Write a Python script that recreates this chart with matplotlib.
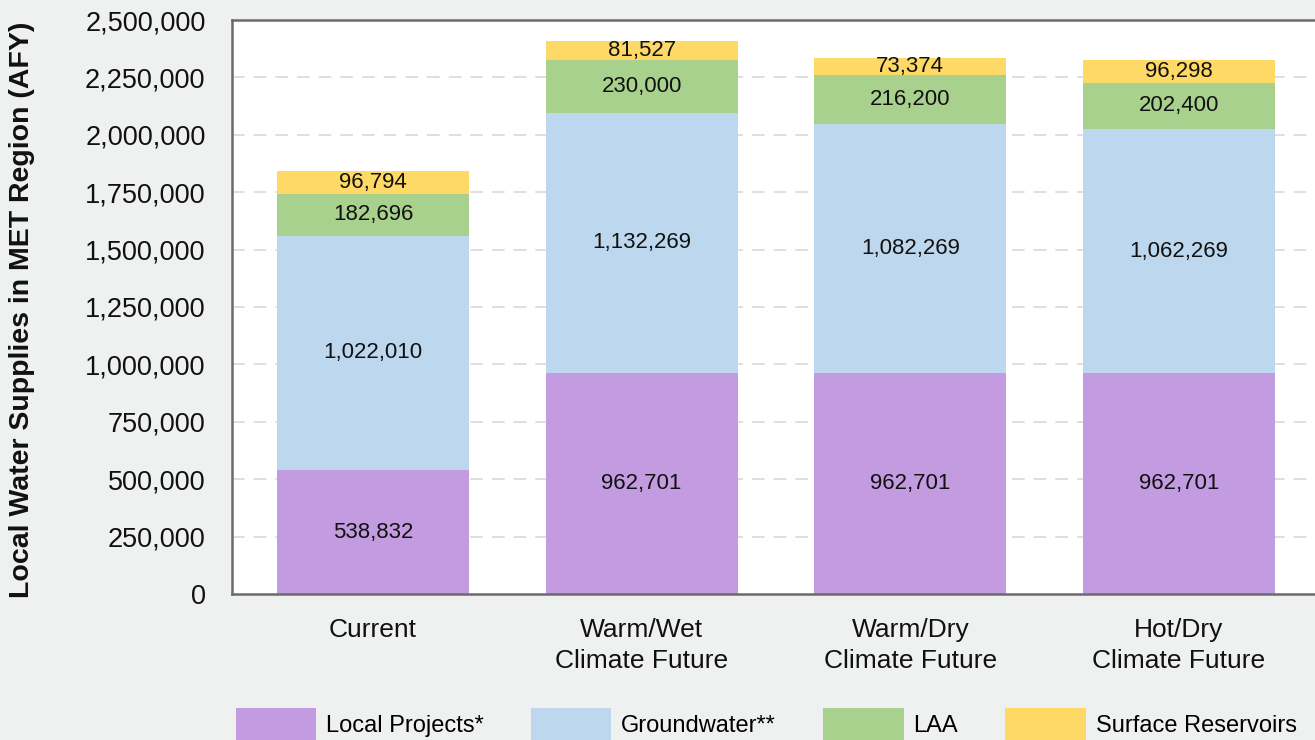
import matplotlib
matplotlib.use("Agg")
import matplotlib.pyplot as plt
import numpy as np
from matplotlib.patches import Patch
from matplotlib.ticker import FuncFormatter

# data
categories = ["Current", "Warm/Wet\nClimate Future", "Warm/Dry\nClimate Future", "Hot/Dry\nClimate Future"]
local_projects = [538832, 962701, 962701, 962701]
groundwater = [1022010, 1132269, 1082269, 1062269]
laa = [182696, 230000, 216200, 202400]
surface_reservoirs = [96794, 81527, 73374, 96298]

series_names = ["Local Projects*", "Groundwater**", "LAA", "Surface Reservoirs"]
colors = ["#C39BE0", "#BDD7EE", "#A9D18E", "#FFD966"]

plt.rcParams["font.family"] = ["Liberation Sans", "DejaVu Sans"]

fig = plt.figure(figsize=(13.15, 7.4), dpi=100, facecolor="#eff0f0")
ax = fig.add_axes([232 / 1315, 146 / 740, 1088 / 1315, 574 / 740])
ax.set_facecolor("white")

x = np.arange(len(categories))
bottom = np.zeros(len(categories))
for vals, name, col in zip([local_projects, groundwater, laa, surface_reservoirs], series_names, colors):
    vals = np.array(vals, dtype=float)
    ax.bar(x, vals, 0.715, bottom=bottom, color=col, label=name, zorder=2)
    #etiqueta centrada en cada segmento
    for xi, b, v in zip(x, bottom, vals):
        ax.text(xi, b + v / 2, f"{int(v):,}", ha="center", va="center",
                fontsize=16, color="#111111", zorder=3)
    bottom += vals

ax.set_xlim(-0.525, 3.525)
ax.set_ylim(0, 2500000)
ax.set_yticks(np.arange(0, 2500001, 250000))
ax.yaxis.set_major_formatter(FuncFormatter(lambda v, p: f"{int(v):,}"))
ax.set_xticks(x)
ax.set_xticklabels(categories, linespacing=1.38)
ax.tick_params(axis="y", length=0, pad=19, labelsize=19.5, labelcolor="#111111")
ax.tick_params(axis="x", length=0, pad=17, labelsize=19, labelcolor="#111111")

for s in ["left", "bottom", "top"]:
    ax.spines[s].set_color("#6b6b6b")
    ax.spines[s].set_linewidth(1.8)
ax.spines["right"].set_visible(False)

for yv in np.arange(250000, 2500000, 250000):
    ax.axhline(yv, color="#dcdcdc", lw=1.3, dashes=(7, 5), zorder=1)

fig.text(22 / 1315, (740 - 309.5) / 740, "Local Water Supplies in MET Region (AFY)",
         rotation=90, ha="center", va="center", fontsize=20.5, fontweight="bold",
         color="#111111")

handles = [Patch(facecolor=c, edgecolor="none") for c in colors]
fig.legend(handles, series_names, loc="upper left", bbox_to_anchor=(236 / 1315, (740 - 708) / 740),
           ncol=4, frameon=False, fontsize=17, handlelength=3.4, handleheight=1.7,
           handletextpad=0.42, columnspacing=2.0, borderpad=0, borderaxespad=0)

fig.savefig("out.png", dpi=100, facecolor=fig.get_facecolor())
